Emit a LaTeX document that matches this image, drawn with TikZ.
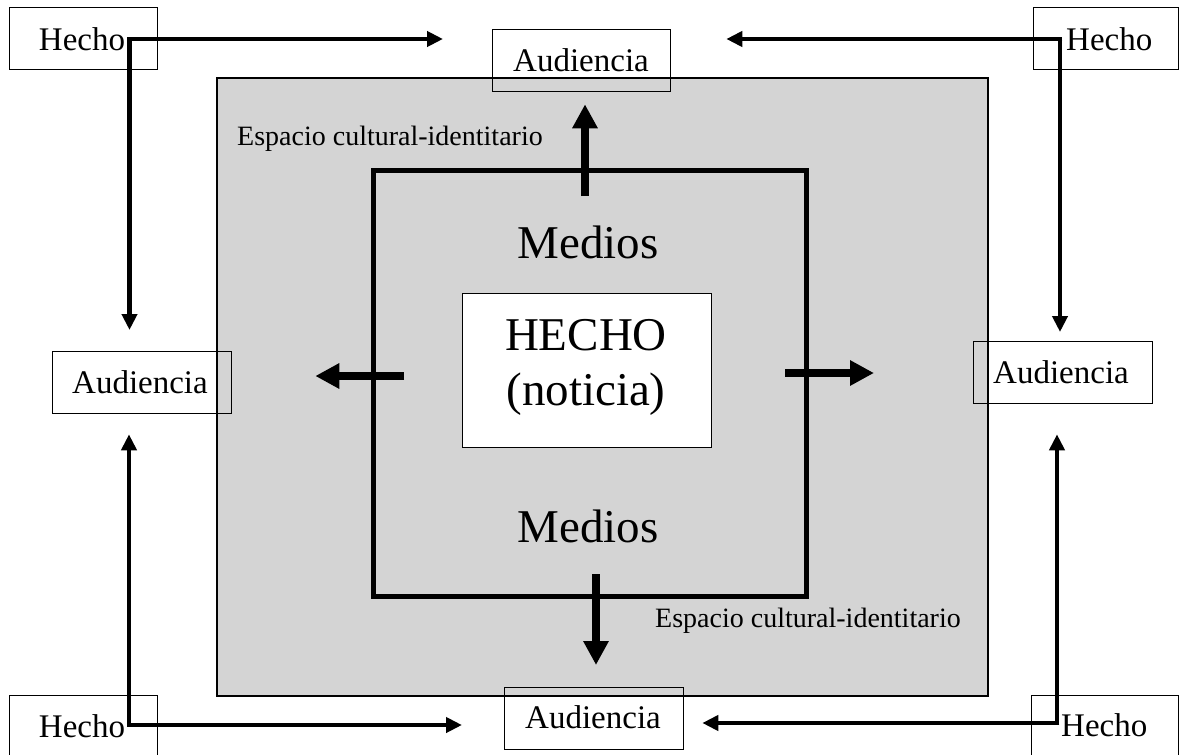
\documentclass[tikz,border=0pt]{standalone}
\usepackage{fontspec}
\setmainfont{Liberation Serif}
\usetikzlibrary{arrows.meta}
\definecolor{espgray}{RGB}{212,212,212}
\tikzset{
  box/.style={draw=black, line width=1.3pt, inner sep=0pt, anchor=north west},
  txt/.style={inner sep=0pt, anchor=base, font=\fontsize{33}{38}\selectfont},
  bigtxt/.style={inner sep=0pt, anchor=base, font=\fontsize{47}{54}\selectfont},
  smalltxt/.style={inner sep=0pt, anchor=base west, font=\fontsize{28}{32}\selectfont},
  conn/.style={line width=4.5pt, -{Triangle[length=16pt, width=15pt]}},
  bigarrow/.style={line width=8pt, -{Triangle[length=24pt, width=24pt]}}
}
\begin{document}
\begin{tikzpicture}[x=1pt, y=-1pt]
\useasboundingbox (0,0) rectangle (1179,755);
\clip (0,0) rectangle (1179,755);
\fill[white] (0,0) rectangle (1179,755);

% cultural-identity space
\node[box, fill=espgray, line width=1.5pt, minimum width=771pt, minimum height=618pt] (espacio) at (216,77) {};
% media frame
\node[box, line width=4.5pt, minimum width=433pt, minimum height=426pt] (medios) at (371,168) {};
% central fact
\node[box, fill=white, minimum width=249pt, minimum height=154pt] (hecho) at (462,293) {};

% boxes
\node[box, minimum width=148pt, minimum height=62pt] (hTL) at (9,7) {};
\node[box, minimum width=145pt, minimum height=62pt] (hTR) at (1033,7) {};
\node[box, minimum width=148pt, minimum height=70pt] (hBL) at (9,695) {};
\node[box, minimum width=147pt, minimum height=70pt] (hBR) at (1031,695) {};
\node[box, minimum width=178pt, minimum height=62pt] (aTop) at (492,29) {};
\node[box, minimum width=179pt, minimum height=62pt] (aBot) at (504,687) {};
\node[box, minimum width=179pt, minimum height=62pt] (aLeft) at (52,351) {};
\node[box, minimum width=179pt, minimum height=62pt] (aRight) at (973,341) {};

% texts
\node[txt] (tTL) at (82,50) {Hecho};
\node[txt, anchor=base west] (tTR) at (1066,50) {Hecho};
\node[txt] (tBL) at (82,737) {Hecho};
\node[txt, anchor=base west] (tBR) at (1061,736) {Hecho};
\node[txt] (tATop) at (581,71) {Audiencia};
\node[txt] (tABot) at (593,728) {Audiencia};
\node[txt] (tALeft) at (140,393) {Audiencia};
\node[txt] (tARight) at (1061,383) {Audiencia};
\node[bigtxt] (m1) at (588,258) {Medios};
\node[bigtxt] (m2) at (588,542) {Medios};
\node[bigtxt] (h1) at (586,350) {HECHO};
\node[bigtxt] (h2) at (586,405) {(noticia)};
\node[smalltxt] (e1) at (237,145) {Espacio cultural-identitario};
\node[smalltxt] (e2) at (655,627) {Espacio cultural-identitario};

% connector corners
\coordinate (cTL) at (129.5,39);
\coordinate (cTR) at (1060,39);
\coordinate (cBL) at (129,725);
\coordinate (cBR) at (1057,723);

\draw[conn, shorten >=49pt] ([xshift=-2.25pt]cTL) -- (aTop.west |- cTL);
\draw[conn, shorten >=21pt] (cTL) -- (cTL |- aLeft.north);
\draw[conn, shorten >=55pt] ([xshift=2.25pt]cTR) -- (aTop.east |- cTR);
\draw[conn, shorten >=9pt] (cTR) -- (cTR |- aRight.north);
\draw[conn, shorten >=42pt] ([xshift=-2.25pt]cBL) -- (aBot.west |- cBL);
\draw[conn, shorten >=20pt] (cBL) -- (cBL |- aLeft.south);
\draw[conn, shorten >=18pt] ([xshift=2.25pt]cBR) -- (aBot.east |- cBR);
\draw[conn, shorten >=30pt] (cBR) -- (cBR |- aRight.south);

% media arrows
\coordinate (upS) at (585,196);
\coordinate (dnS) at (596,574);
\coordinate (lfS) at (404,376);
\coordinate (rtS) at (785,373);
\draw[bigarrow, shorten >=12pt] (upS) -- (upS |- aTop.south);
\draw[bigarrow, shorten >=22pt] (dnS) -- (dnS |- aBot.north);
\draw[bigarrow, shorten >=83pt] (lfS) -- (lfS -| aLeft.east);
\draw[bigarrow, shorten >=99pt] (rtS) -- (rtS -| aRight.west);
\end{tikzpicture}
\end{document}
